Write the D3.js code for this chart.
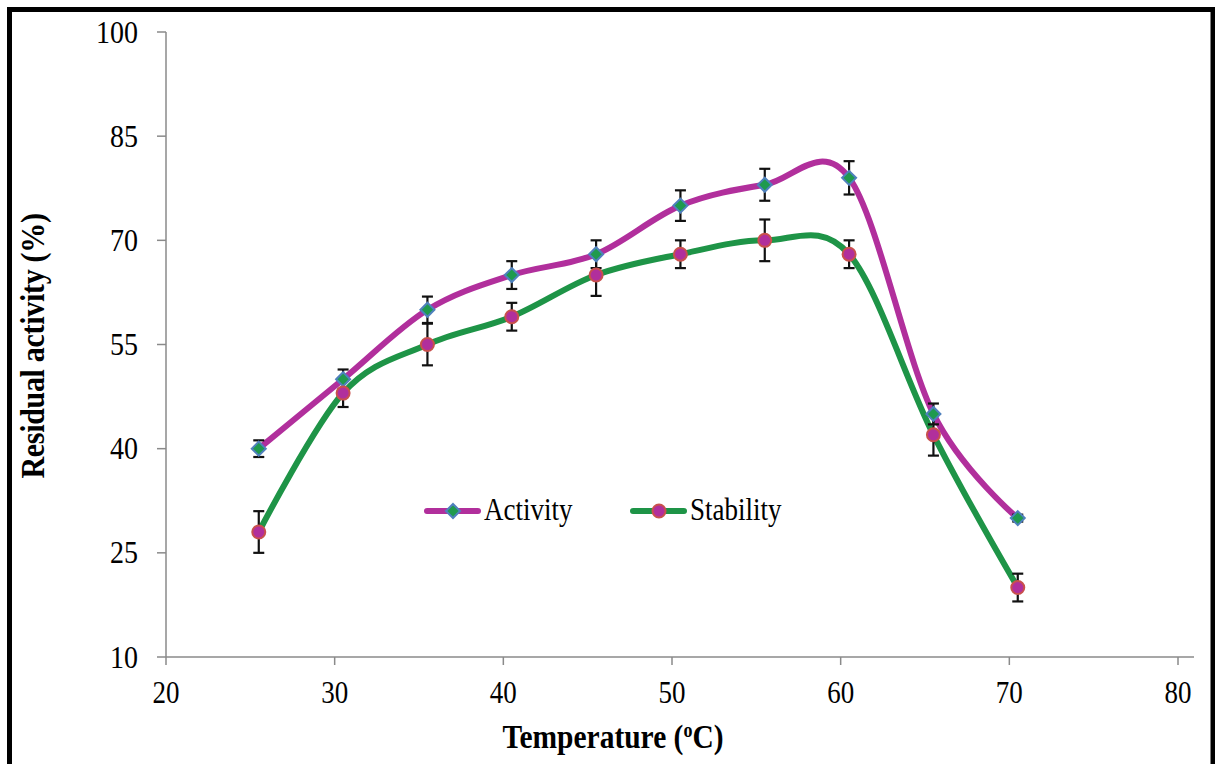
<!DOCTYPE html>
<html>
<head>
<meta charset="utf-8">
<script src="https://cdn.jsdelivr.net/npm/d3@7"></script>
<style>
  html, body { margin: 0; padding: 0; background: #fff; }
  svg { display: block; }
  text { font-family: "Liberation Serif", "Times New Roman", serif; fill: #000; }
</style>
</head>
<body>
<svg id="chart" width="1215" height="764"></svg>
<script>
// temperatures (points sit half a degree right of the grid in the source)
var temps = [25.5, 30.5, 35.5, 40.5, 45.5, 50.5, 55.5, 60.5, 65.5, 70.5];
var activity = [40, 50, 60, 65, 68, 75, 78, 79, 45, 30];
var activityErr = [1.2, 1.4, 1.9, 2, 2, 2.2, 2.3, 2.4, 1.5, 0.5];
var stability = [28, 48, 55, 59, 65, 68, 70, 68, 42, 20];
var stabilityErr = [3, 2, 3, 2, 3, 2, 3, 2, 3, 2];
var xTicks = [20, 30, 40, 50, 60, 70, 80];
var yTicks = [10, 25, 40, 55, 70, 85, 100];

var svg = d3.select('#chart');
var stretch = 1.15; // source text is drawn taller than it is wide

var x = d3.scaleLinear().domain([20, 80]).range([166, 1178]);
var y = d3.scaleLinear().domain([10, 100]).range([657, 32]);

// frame
svg.append('rect')
  .attr('x', 9.5).attr('y', 9.5)
  .attr('width', 1203.5).attr('height', 820)
  .attr('fill', 'none').attr('stroke', '#000').attr('stroke-width', 5);

var axisColor = '#8a8a8a';

// y axis
var gy = svg.append('g');
gy.append('line')
  .attr('x1', x(20)).attr('x2', x(20))
  .attr('y1', y(100)).attr('y2', y(10))
  .attr('stroke', axisColor).attr('stroke-width', 1.5);
gy.selectAll('line.tick').data(yTicks).enter().append('line')
  .attr('class', 'tick')
  .attr('x1', x(20) - 9).attr('x2', x(20))
  .attr('y1', function(d) { return y(d); }).attr('y2', function(d) { return y(d); })
  .attr('stroke', axisColor).attr('stroke-width', 1.5);
gy.selectAll('text').data(yTicks).enter().append('text')
  .attr('text-anchor', 'end')
  .attr('font-size', 28)
  .attr('transform', function(d) { return 'translate(138,' + (y(d) + 10.5) + ') scale(1,' + stretch + ')'; })
  .text(function(d) { return d; });

// x axis
var gx = svg.append('g');
gx.append('line')
  .attr('x1', x(20)).attr('x2', 1194)
  .attr('y1', y(10)).attr('y2', y(10))
  .attr('stroke', axisColor).attr('stroke-width', 1.5);
gx.selectAll('line.tick').data(xTicks).enter().append('line')
  .attr('class', 'tick')
  .attr('x1', function(d) { return x(d); }).attr('x2', function(d) { return x(d); })
  .attr('y1', y(10)).attr('y2', y(10) + 8)
  .attr('stroke', axisColor).attr('stroke-width', 1.5);
gx.selectAll('text').data(xTicks).enter().append('text')
  .attr('text-anchor', 'middle')
  .attr('font-size', 27)
  .attr('transform', function(d) { return 'translate(' + x(d) + ',703) scale(1,' + stretch + ')'; })
  .text(function(d) { return d; });

// axis titles
var xt = svg.append('text')
  .attr('text-anchor', 'middle')
  .attr('font-size', 29.5).attr('font-weight', 'bold')
  .attr('transform', 'translate(613,748) scale(1,' + stretch + ')');
xt.append('tspan').text('Temperature (');
xt.append('tspan').attr('font-size', 18).attr('dy', -10).text('o');
xt.append('tspan').attr('dy', 10).text('C)');

svg.append('text')
  .attr('text-anchor', 'middle')
  .attr('font-size', 30).attr('font-weight', 'bold')
  .attr('letter-spacing', -0.3)
  .attr('transform', 'translate(44,346) rotate(-90) scale(1,' + stretch + ')')
  .text('Residual activity (%)');

// series
var series = [
  { name: 'Activity', values: activity, err: activityErr, line: '#b12f9c', marker: 'diamond',
    fill: '#1f9a4e', stroke: '#4f81bd' },
  { name: 'Stability', values: stability, err: stabilityErr, line: '#1e9447', marker: 'circle',
    fill: '#b12f9c', stroke: '#c9504d' }
];

var line = d3.line()
  .x(function(d) { return x(d[0]); })
  .y(function(d) { return y(d[1]); })
  .curve(d3.curveCardinal.tension(0));

series.forEach(function(s) {
  var pts = d3.zip(temps, s.values);
  svg.append('path')
    .datum(pts)
    .attr('d', line)
    .attr('fill', 'none')
    .attr('stroke', s.line)
    .attr('stroke-width', 6)
    .attr('stroke-linecap', 'round');
});

// error bars
series.forEach(function(s) {
  var g = svg.append('g').attr('stroke', '#111').attr('stroke-width', 2.2);
  temps.forEach(function(t, i) {
    var cx = x(t), lo = y(s.values[i] - s.err[i]), hi = y(s.values[i] + s.err[i]);
    g.append('line').attr('x1', cx).attr('x2', cx).attr('y1', lo).attr('y2', hi);
    g.append('line').attr('x1', cx - 5.5).attr('x2', cx + 5.5).attr('y1', lo).attr('y2', lo);
    g.append('line').attr('x1', cx - 5.5).attr('x2', cx + 5.5).attr('y1', hi).attr('y2', hi);
  });
});

function drawMarker(g, s, cx, cy) {
  if (s.marker === 'diamond') {
    g.append('path')
      .attr('d', 'M' + cx + ',' + (cy - 7) + 'L' + (cx + 7) + ',' + cy + 'L' + cx + ',' + (cy + 7) + 'L' + (cx - 7) + ',' + cy + 'Z')
      .attr('fill', s.fill).attr('stroke', s.stroke).attr('stroke-width', 2);
  } else {
    g.append('circle')
      .attr('cx', cx).attr('cy', cy).attr('r', 6.5)
      .attr('fill', s.fill).attr('stroke', s.stroke).attr('stroke-width', 2);
  }
}

series.forEach(function(s) {
  var g = svg.append('g');
  temps.forEach(function(t, i) { drawMarker(g, s, x(t), y(s.values[i])); });
});

// legend
var legendX = [427, 633];
series.forEach(function(s, i) {
  var g = svg.append('g');
  var lx = legendX[i], ly = 511;
  g.append('line')
    .attr('x1', lx).attr('x2', lx + 51).attr('y1', ly).attr('y2', ly)
    .attr('stroke', s.line).attr('stroke-width', 6).attr('stroke-linecap', 'round');
  drawMarker(g, s, lx + 26, ly);
  g.append('text')
    .attr('font-size', 27)
    .attr('transform', 'translate(' + (lx + 57) + ',' + (ly + 9) + ') scale(1,' + stretch + ')')
    .text(s.name);
});
</script>
</body>
</html>
